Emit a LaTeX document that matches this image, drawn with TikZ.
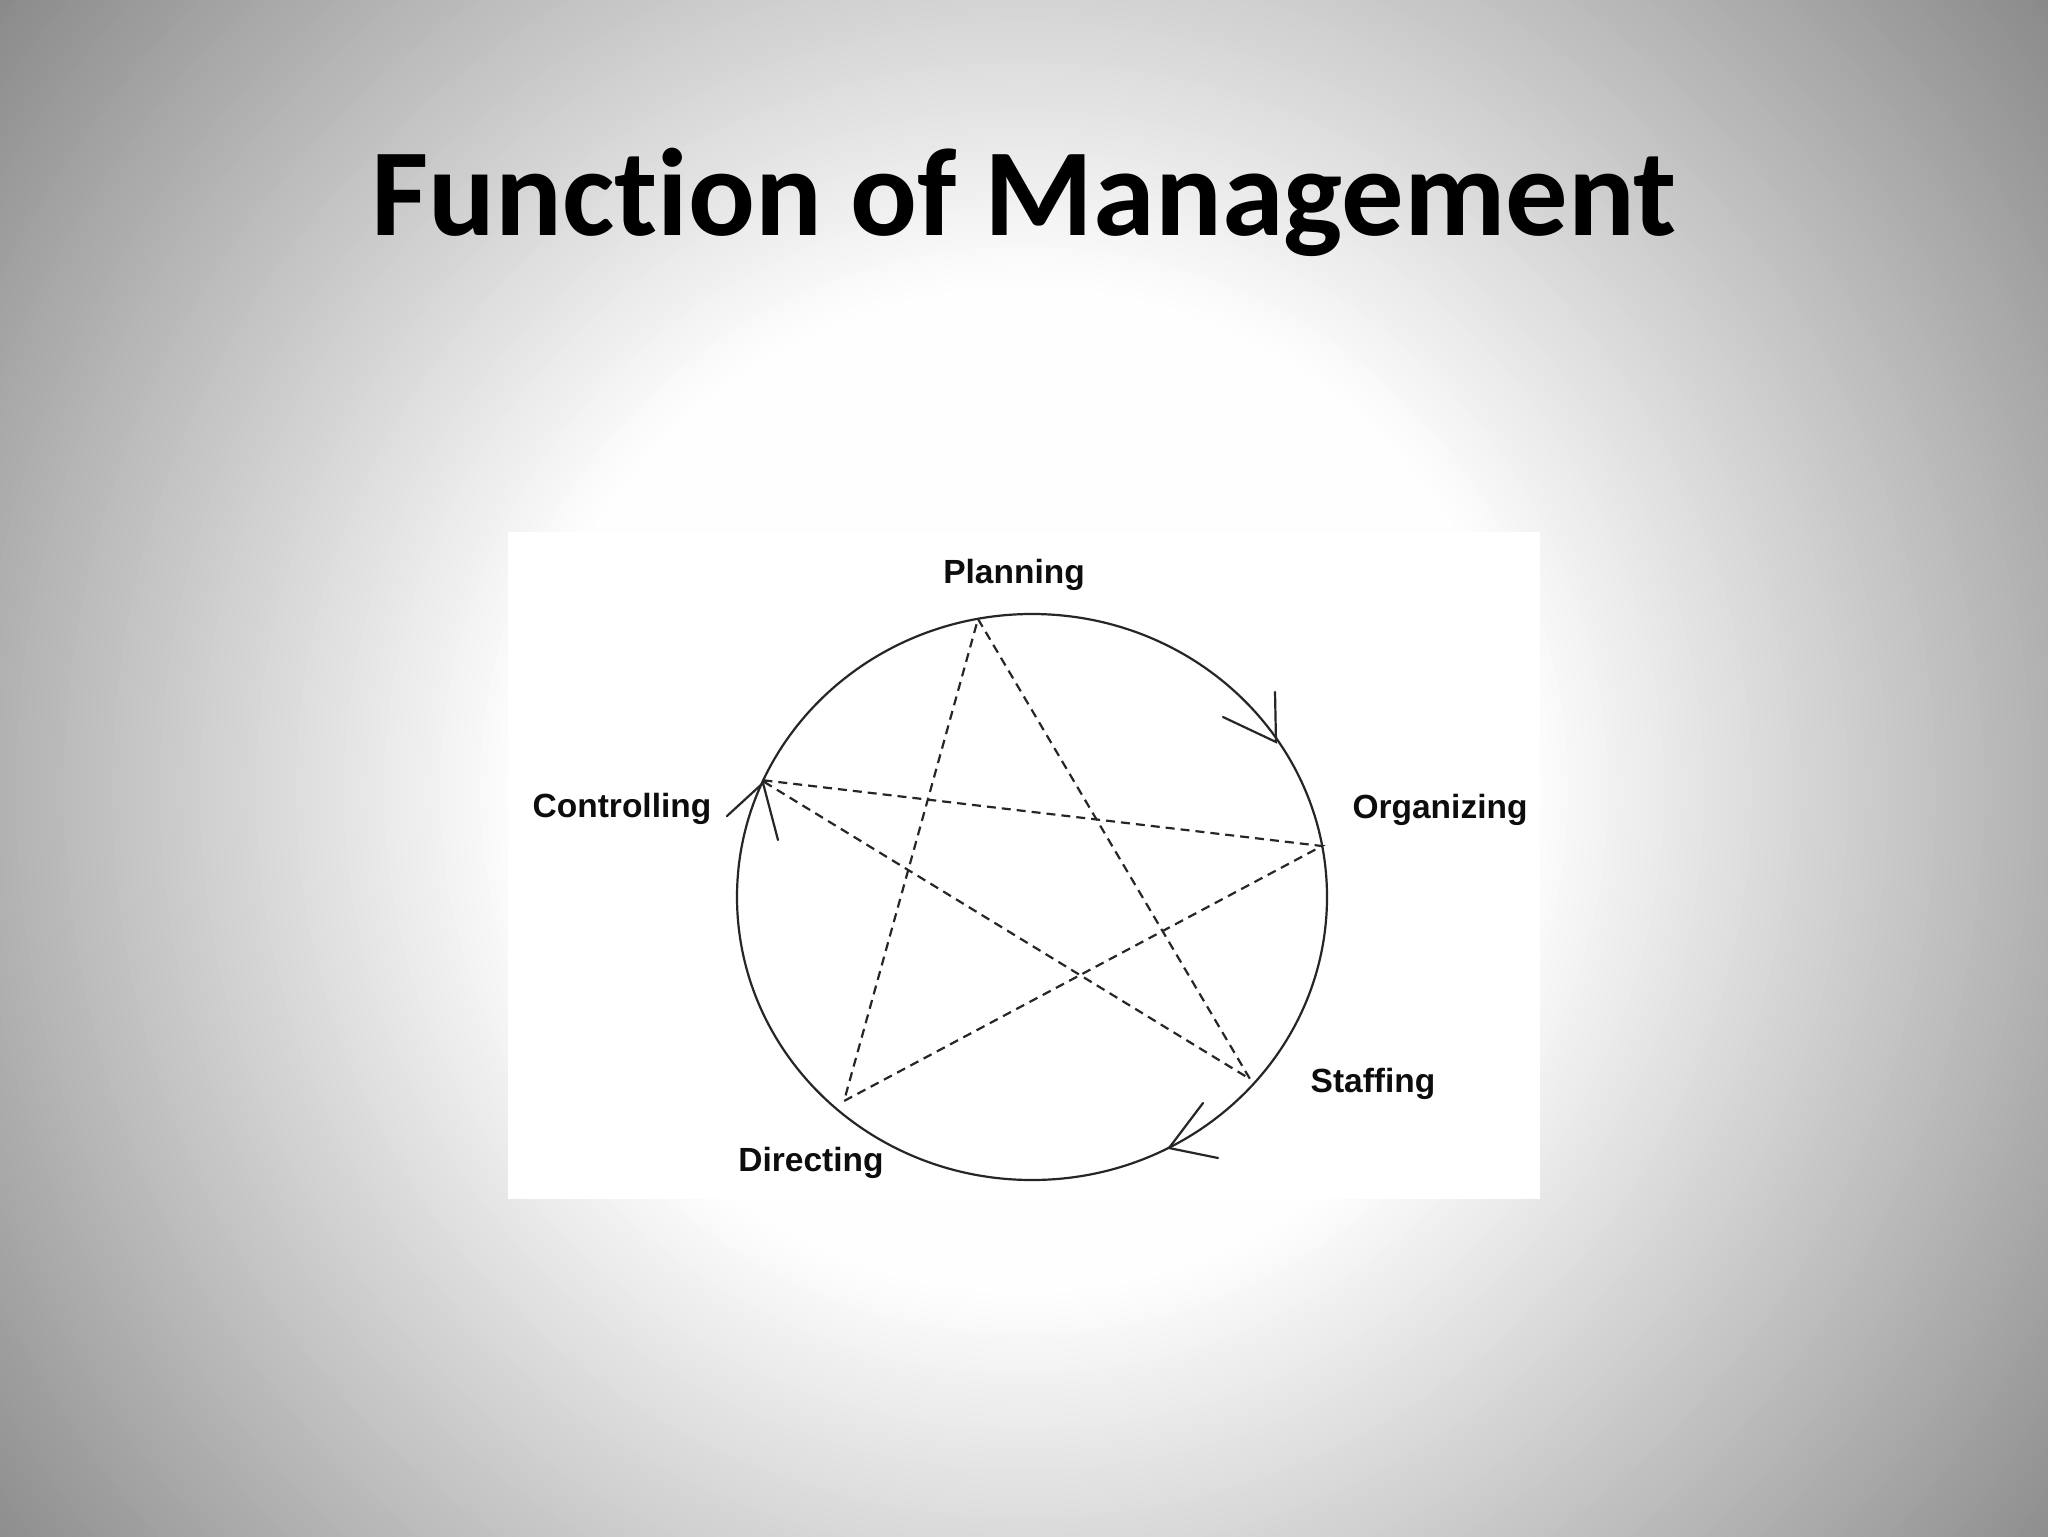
\documentclass[tikz,border=0pt]{standalone}
\usepackage{fontspec}
\setmainfont{Liberation Sans}
\newfontfamily\titlefont[Ligatures=NoCommon]{Carlito}
\begin{document}
\begin{tikzpicture}[x=0.5pt,y=-0.5pt,
  lbl/.style={anchor=base, inner sep=0pt, font=\fontsize{16.75}{20}\selectfont\bfseries, text=black!95},
  ttl/.style={anchor=base, inner sep=0pt, font=\titlefont\fontsize{62.3}{70}\selectfont\bfseries},
  ring/.style={line width=1.1pt, draw=black!85},
  starline/.style={line width=1.1pt, draw=black!85, dash pattern=on 4.5pt off 3pt},
  barb/.style={line width=1.1pt, draw=black!85, line cap=round}]
\useasboundingbox (0,0) rectangle (2048,1536);
% background: circular gradient, white centre to grey corners
\begin{scope}
  \clip (0,0) rectangle (2048,1536);
  \fill[white] (0,0) rectangle (2048,1536);
  \foreach \r in {1320,1312,...,500} {
    \pgfmathsetmacro\g{min(1,1-0.46*(\r-500)/800)}
    \definecolor{bgc}{gray}{\g}
    \fill[bgc] (1024,790) circle [radius=\r*0.5pt];
  }
\end{scope}
% title
\node[ttl] (title) at (1024,235) {Function of Management};
% white picture
\fill[white] (508,532) rectangle (1540,1199);
% ring
\draw[ring] (1032,897) ellipse [x radius=147.5pt, y radius=141.5pt];
% star points
\coordinate (P) at (978,619);
\coordinate (O) at (1322,846);
\coordinate (S) at (1250,1079);
\coordinate (D) at (844,1101);
\coordinate (C) at (761,780);
\draw[starline] (P) -- (S) -- (C) -- (O) -- (D) -- cycle;
% arrowheads
\coordinate (t1) at (1276,742);
\coordinate (a1) at (1275,692);
\coordinate (b1) at (1223,717);
\draw[barb] (a1) -- (t1) -- (b1);
\coordinate (t2) at (1169,1148);
\coordinate (a2) at (1203,1103);
\coordinate (b2) at (1218,1158);
\draw[barb] (a2) -- (t2) -- (b2);
\coordinate (t3) at (763,783);
\coordinate (a3) at (727,816);
\coordinate (b3) at (778,840);
\draw[barb] (a3) -- (t3) -- (b3);
% labels
\node[lbl] (planning) at (1014,583) {Planning};
\node[lbl] (organizing) at (1440,818) {Organizing};
\node[lbl] (staffing) at (1373,1092) {Staffing};
\node[lbl] (directing) at (811,1171) {Directing};
\node[lbl] (controlling) at (622,817) {Controlling};
\end{tikzpicture}
\end{document}
